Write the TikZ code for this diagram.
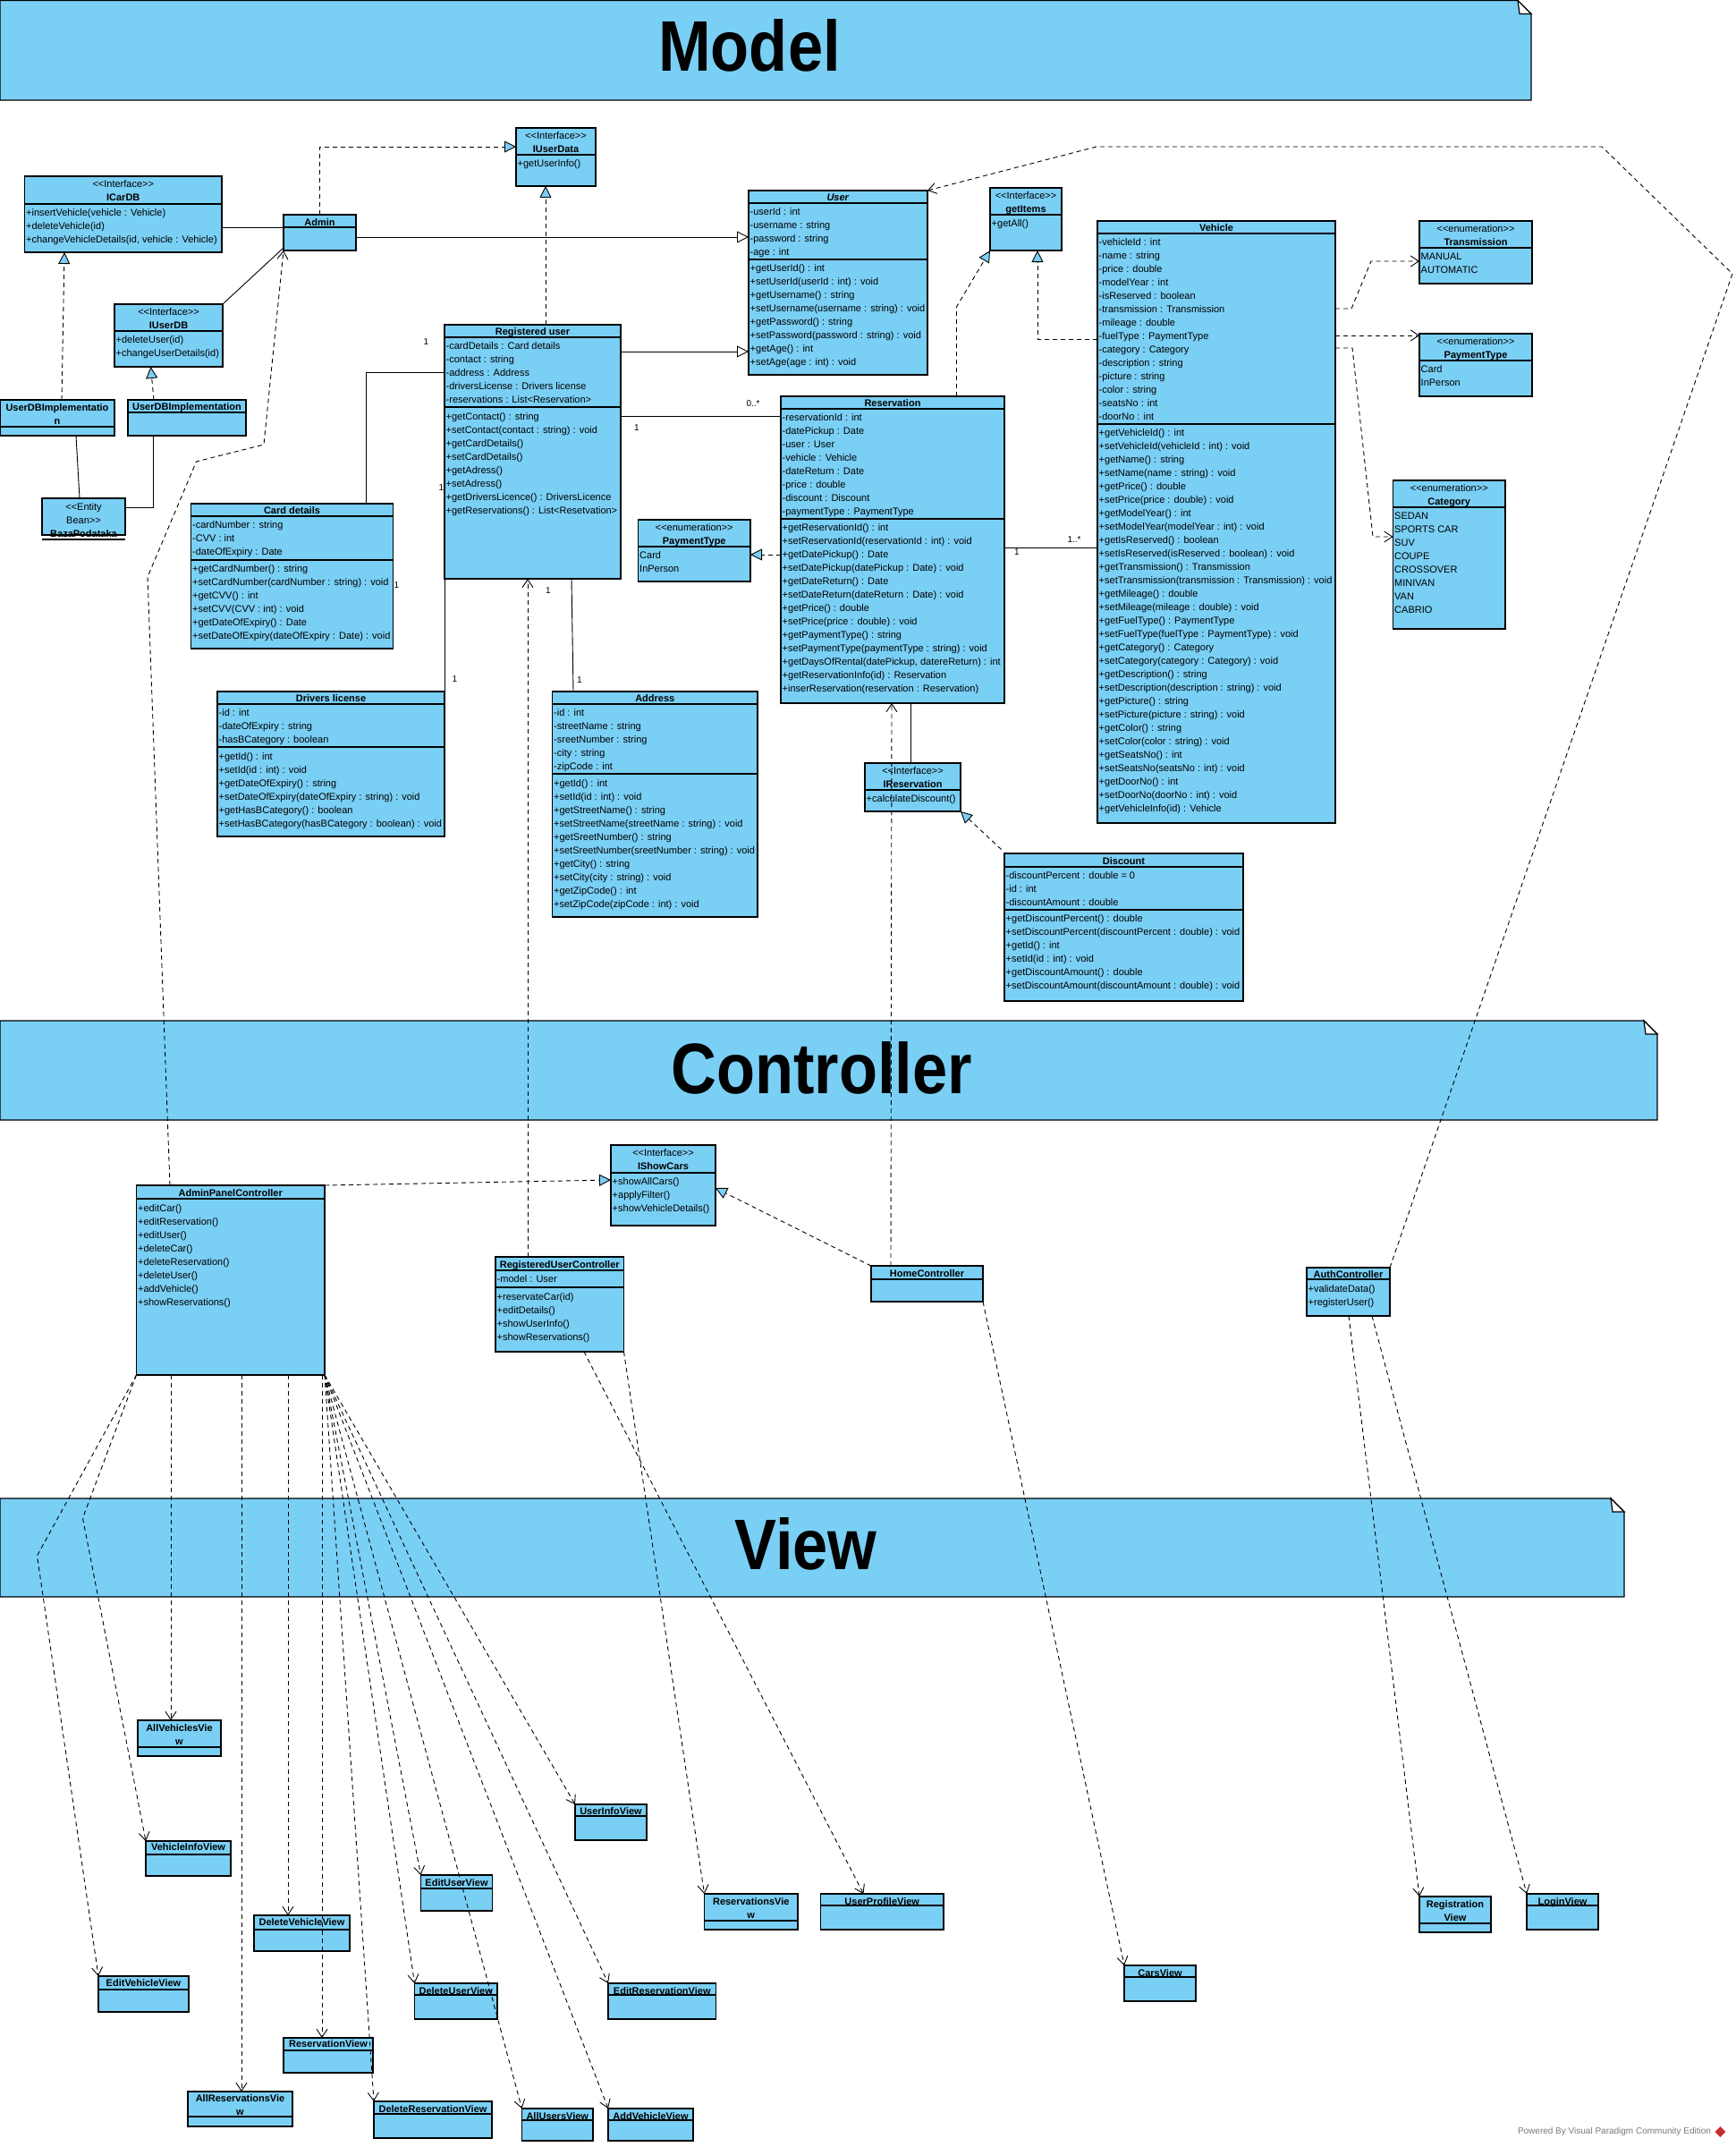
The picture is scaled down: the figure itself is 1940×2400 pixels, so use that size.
\documentclass[tikz,border=0pt]{standalone}
\usepackage{fontspec}
\setmainfont{Liberation Sans}
\usepackage{xcolor}
\usepackage{tikz}
\usetikzlibrary{arrows.meta}
\usetikzlibrary{calc}
\usetikzlibrary{positioning}
\usetikzlibrary{shapes.geometric}
\definecolor{umlblue}{RGB}{122,207,245}
\definecolor{creditgray}{RGB}{120,120,120}
\definecolor{vpred}{RGB}{200,45,50}
\newcommand{\umlsize}{\fontsize{11}{15}\selectfont}
\newcommand{\stereo}[1]{{\mdseries <\kern0pt<#1>\kern0pt>}}
\tikzset{
    umlbox/.style = {rectangle, draw=black, fill=umlblue, line width=1.2pt, anchor=north west, inner sep=0pt, outer sep=0pt},
    umltitle/.style = {anchor=north, align=center, inner sep=0pt, font=\umlsize\bfseries},
    umlrow/.style = {anchor=north west, align=left, inner sep=0pt, font=\umlsize},
    sepline/.style = {draw=black, line width=1.2pt},
    bannerbox/.style = {draw=black, fill=umlblue, line width=1.2pt},
    bannertitle/.style = {inner sep=0pt, font=\fontsize{80}{84}\selectfont\bfseries},
    mult/.style = {inner sep=0pt, font=\fontsize{10}{12}\selectfont},
}
\newcommand{\umlclass}[5]{\node[umlbox, minimum width=#4, minimum height=#5] (#1) at (#2,#3) {};}
\newcommand{\umlsep}[2]{\draw[sepline] ($(#1.north west)+(0,#2)$) -- ($(#1.north east)+(0,#2)$);}
\newcommand{\umlname}[3]{\node[umltitle] (#1-name) at ($(#1.north)+(0,#2)$) {\strut #3};}
\newcommand{\umlrows}[4]{\node[umlrow] (#1-#2) at ($(#1.north west)+(1.5,#3)$) {\strut #4};}

\begin{document}
\begin{tikzpicture}[x=1pt, y=-1pt]
\tikzset{
    assoc/.style = {draw=black, line width=0.9pt},
    generalize/.style = {draw=black, line width=0.9pt, -{Triangle[fill=white, length=13pt, width=13pt]}},
    realize/.style = {draw=black, line width=0.9pt, dash pattern=on 5pt off 4pt, -{Triangle[fill=umlblue, length=13pt, width=13pt]}},
    depend/.style = {draw=black, line width=0.9pt, dash pattern=on 5pt off 4pt, -{Straight Barb[length=9pt, width=12pt]}},
}
\useasboundingbox (0,0) rectangle (1940,2400);
%
% banners
\path[bannerbox] (0,0.6) -- (1697,0.6) -- (1712,15.6) -- (1712,112) -- (0,112) -- cycle;
\path[bannerbox, fill=white] (1697,0.6) -- (1712,15.6) -- (1699,15.6) -- cycle;
\node[bannertitle] (modeltitle) at (838,51) {\scalebox{0.88}[1]{Model}};
\path[bannerbox] (0,1141) -- (1838,1141) -- (1853,1156) -- (1853,1252) -- (0,1252) -- cycle;
\path[bannerbox, fill=white] (1838,1141) -- (1853,1156) -- (1840,1156) -- cycle;
\node[bannertitle] (controllertitle) at (918.5,1194) {\scalebox{0.88}[1]{Controller}};
\path[bannerbox] (0,1675) -- (1801,1675) -- (1816,1690) -- (1816,1785) -- (0,1785) -- cycle;
\path[bannerbox, fill=white] (1801,1675) -- (1816,1690) -- (1803,1690) -- cycle;
\node[bannertitle] (viewtitle) at (901,1726) {\scalebox{0.88}[1]{View}};
%
% model classes
\umlclass{icardb}{27.5}{197}{220.5}{85}
\umlsep{icardb}{31}
\umlname{icardb}{2}{\stereo{Interface}\\ICarDB}
\umlrows{icardb}{ops}{34}{+insertVehicle(vehicle : Vehicle)\\+deleteVehicle(id)\\+changeVehicleDetails(id, vehicle : Vehicle)}
%
\umlclass{iuserdata}{577}{143}{89}{65}
\umlsep{iuserdata}{30}
\umlname{iuserdata}{2}{\stereo{Interface}\\IUserData}
\umlrows{iuserdata}{ops}{33}{+getUserInfo()}
%
\umlclass{admin}{317}{240}{81}{40}
\umlsep{admin}{14}
\umlname{admin}{1.5}{Admin}
%
\umlclass{iuserdb}{128}{340}{121}{70}
\umlsep{iuserdb}{30}
\umlname{iuserdb}{2}{\stereo{Interface}\\IUserDB}
\umlrows{iuserdb}{ops}{33}{+deleteUser(id)\\+changeUserDetails(id)}
%
\umlclass{implleft}{0}{447}{128}{40}
\umlsep{implleft}{30}
\umlname{implleft}{2}{UserDBImplementatio\\n}
\umlclass{implright}{143}{447}{132}{40}
\umlsep{implright}{14}
\umlname{implright}{1}{UserDBImplementation}
%
\umlclass{baza}{47}{557}{93}{41}
\umlname{baza}{2.5}{{\mdseries <\kern0pt<Entity}\\{\mdseries Bean>\kern0pt>}\\BazaPodataka}
\draw[sepline] ($(baza.south west)+(0,5)$) -- ($(baza.south east)+(0,5)$);
%
\umlclass{user}{837}{213}{200}{206}
\umlsep{user}{14}
\umlsep{user}{77}
\umlname{user}{1}{\textit{User}}
\umlrows{user}{attr}{17}{-userId : int\\-username : string\\-password : string\\-age : int}
\umlrows{user}{ops}{80}{+getUserId() : int\\+setUserId(userId : int) : void\\+getUsername() : string\\+setUsername(username : string) : void\\+getPassword() : string\\+setPassword(password : string) : void\\+getAge() : int\\+setAge(age : int) : void}
%
\umlclass{getitems}{1107}{210}{80}{70}
\umlsep{getitems}{30}
\umlname{getitems}{2}{\stereo{Interface}\\getItems}
\umlrows{getitems}{ops}{33}{+getAll()}
%
\umlclass{reguser}{497}{363}{197}{284}
\umlsep{reguser}{14}
\umlsep{reguser}{92}
\umlname{reguser}{1}{Registered user}
\umlrows{reguser}{attr}{17}{-cardDetails : Card details\\-contact : string\\-address : Address\\-driversLicense : Drivers license\\-reservations : List<Reservation>}
\umlrows{reguser}{ops}{96}{+getContact() : string\\+setContact(contact : string) : void\\+getCardDetails()\\+setCardDetails()\\+getAdress()\\+setAdress()\\+getDriversLicence() : DriversLicence\\+getReservations() : List<Resetvation>}
%
\umlclass{reservation}{873}{443}{250}{343}
\umlsep{reservation}{14}
\umlsep{reservation}{137}
\umlname{reservation}{1}{Reservation}
\umlrows{reservation}{attr}{17}{-reservationId : int\\-datePickup : Date\\-user : User\\-vehicle : Vehicle\\-dateReturn : Date\\-price : double\\-discount : Discount\\-paymentType : PaymentType}
\umlrows{reservation}{ops}{140}{+getReservationId() : int\\+setReservationId(reservationId : int) : void\\+getDatePickup() : Date\\+setDatePickup(datePickup : Date) : void\\+getDateReturn() : Date\\+setDateReturn(dateReturn : Date) : void\\+getPrice() : double\\+setPrice(price : double) : void\\+getPaymentType() : string\\+setPaymentType(paymentType : string) : void\\+getDaysOfRental(datePickup, datereReturn) : int\\+getReservationInfo(id) : Reservation\\+inserReservation(reservation : Reservation)}
%
\umlclass{vehicle}{1227}{247}{266}{673}
\umlsep{vehicle}{14}
\umlsep{vehicle}{227}
\umlname{vehicle}{1}{Vehicle}
\umlrows{vehicle}{attr}{17}{-vehicleId : int\\-name : string\\-price : double\\-modelYear : int\\-isReserved : boolean\\-transmission : Transmission\\-mileage : double\\-fuelType : PaymentType\\-category : Category\\-description : string\\-picture : string\\-color : string\\-seatsNo : int\\-doorNo : int}
\umlrows{vehicle}{ops}{230}{+getVehicleId() : int\\+setVehicleId(vehicleId : int) : void\\+getName() : string\\+setName(name : string) : void\\+getPrice() : double\\+setPrice(price : double) : void\\+getModelYear() : int\\+setModelYear(modelYear : int) : void\\+getIsReserved() : boolean\\+setIsReserved(isReserved : boolean) : void\\+getTransmission() : Transmission\\+setTransmission(transmission : Transmission) : void\\+getMileage() : double\\+setMileage(mileage : double) : void\\+getFuelType() : PaymentType\\+setFuelType(fuelType : PaymentType) : void\\+getCategory() : Category\\+setCategory(category : Category) : void\\+getDescription() : string\\+setDescription(description : string) : void\\+getPicture() : string\\+setPicture(picture : string) : void\\+getColor() : string\\+setColor(color : string) : void\\+getSeatsNo() : int\\+setSeatsNo(seatsNo : int) : void\\+getDoorNo() : int\\+setDoorNo(doorNo : int) : void\\+getVehicleInfo(id) : Vehicle}
%
\umlclass{transmission}{1587}{247}{126}{70}
\umlsep{transmission}{30}
\umlname{transmission}{2}{\stereo{enumeration}\\Transmission}
\umlrows{transmission}{items}{33}{MANUAL\\AUTOMATIC}
\umlclass{paymentright}{1587}{373}{126}{70}
\umlsep{paymentright}{30}
\umlname{paymentright}{2}{\stereo{enumeration}\\PaymentType}
\umlrows{paymentright}{items}{33}{Card\\InPerson}
\umlclass{category}{1557.5}{537}{125.5}{166}
\umlsep{category}{30}
\umlname{category}{2}{\stereo{enumeration}\\Category}
\umlrows{category}{items}{33}{SEDAN\\SPORTS CAR\\SUV\\COUPE\\CROSSOVER\\MINIVAN\\VAN\\CABRIO}
\umlclass{paymentmid}{713.5}{581}{125.5}{69}
\umlsep{paymentmid}{30}
\umlname{paymentmid}{2}{\stereo{enumeration}\\PaymentType}
\umlrows{paymentmid}{items}{33}{Card\\InPerson}
%
\umlclass{carddetails}{213.5}{563}{226}{162}
\umlsep{carddetails}{14}
\umlsep{carddetails}{63}
\umlname{carddetails}{1}{Card details}
\umlrows{carddetails}{attr}{17}{-cardNumber : string\\-CVV : int\\-dateOfExpiry : Date}
\umlrows{carddetails}{ops}{66}{+getCardNumber() : string\\+setCardNumber(cardNumber : string) : void\\+getCVV() : int\\+setCVV(CVV : int) : void\\+getDateOfExpiry() : Date\\+setDateOfExpiry(dateOfExpiry : Date) : void}
%
\umlclass{drivers}{243}{773}{254}{162}
\umlsep{drivers}{14}
\umlsep{drivers}{62}
\umlname{drivers}{1}{Drivers license}
\umlrows{drivers}{attr}{17}{-id : int\\-dateOfExpiry : string\\-hasBCategory : boolean}
\umlrows{drivers}{ops}{65.5}{+getId() : int\\+setId(id : int) : void\\+getDateOfExpiry() : string\\+setDateOfExpiry(dateOfExpiry : string) : void\\+getHasBCategory() : boolean\\+setHasBCategory(hasBCategory : boolean) : void}
%
\umlclass{address}{617.5}{773}{229.5}{252}
\umlsep{address}{14}
\umlsep{address}{92}
\umlname{address}{1}{Address}
\umlrows{address}{attr}{17}{-id : int\\-streetName : string\\-sreetNumber : string\\-city : string\\-zipCode : int}
\umlrows{address}{ops}{95.5}{+getId() : int\\+setId(id : int) : void\\+getStreetName() : string\\+setStreetName(streetName : string) : void\\+getSreetNumber() : string\\+setSreetNumber(sreetNumber : string) : void\\+getCity() : string\\+setCity(city : string) : void\\+getZipCode() : int\\+setZipCode(zipCode : int) : void}
%
\umlclass{ireservation}{967}{853}{107}{54}
\umlsep{ireservation}{30}
\umlname{ireservation}{2}{\stereo{Interface}\\IReservation}
\umlrows{ireservation}{ops}{33}{+calculateDiscount()}
%
\umlclass{discount}{1123}{954}{267}{165}
\umlsep{discount}{15}
\umlsep{discount}{63}
\umlname{discount}{1.5}{Discount}
\umlrows{discount}{attr}{18}{-discountPercent : double = 0\\-id : int\\-discountAmount : double}
\umlrows{discount}{ops}{66}{+getDiscountPercent() : double\\+setDiscountPercent(discountPercent : double) : void\\+getId() : int\\+setId(id : int) : void\\+getDiscountAmount() : double\\+setDiscountAmount(discountAmount : double) : void}
%
% controller classes
\umlclass{adminctrl}{152.5}{1325}{210.5}{212}
\umlsep{adminctrl}{15}
\umlname{adminctrl}{1.5}{AdminPanelController}
\umlrows{adminctrl}{ops}{19}{+editCar()\\+editReservation()\\+editUser()\\+deleteCar()\\+deleteReservation()\\+deleteUser()\\+addVehicle()\\+showReservations()}
%
\umlclass{ishowcars}{683}{1280}{117}{90}
\umlsep{ishowcars}{31}
\umlname{ishowcars}{2}{\stereo{Interface}\\IShowCars}
\umlrows{ishowcars}{ops}{34}{+showAllCars()\\+applyFilter()\\+showVehicleDetails()}
%
\umlclass{regctrl}{554}{1405}{143.5}{106}
\umlsep{regctrl}{15}
\umlsep{regctrl}{34}
\umlname{regctrl}{1.5}{RegisteredUserController}
\umlrows{regctrl}{attr}{18}{-model : User}
\umlrows{regctrl}{ops}{38}{+reservateCar(id)\\+editDetails()\\+showUserInfo()\\+showReservations()}
%
\umlclass{homectrl}{974}{1415}{125}{40}
\umlsep{homectrl}{15}
\umlname{homectrl}{1.5}{HomeController}
%
\umlclass{authctrl}{1461}{1417}{93}{54}
\umlsep{authctrl}{13}
\umlname{authctrl}{0.5}{AuthController}
\umlrows{authctrl}{ops}{16.5}{+validateData()\\+registerUser()}
%
% view classes
\umlclass{allvehicles}{154}{1923}{93}{40}
\umlsep{allvehicles}{30}
\umlname{allvehicles}{1.5}{AllVehiclesVie\\w}
\umlclass{vehicleinfo}{163}{2058}{95}{39}
\umlsep{vehicleinfo}{15}
\umlname{vehicleinfo}{0}{VehicleInfoView}
\umlclass{deletevehicle}{284}{2141}{107}{40}
\umlsep{deletevehicle}{16}
\umlname{deletevehicle}{1}{DeleteVehicleView}
\umlclass{editvehicle}{110}{2209}{101}{40}
\umlsep{editvehicle}{15}
\umlname{editvehicle}{1}{EditVehicleView}
\umlclass{reservationview}{317}{2278}{100}{39}
\umlsep{reservationview}{14}
\umlname{reservationview}{0}{ReservationView}
\umlclass{allreservations}{210}{2338}{117}{39}
\umlsep{allreservations}{28}
\umlname{allreservations}{0.5}{AllReservationsVie\\w}
\umlclass{deletereservation}{418}{2349}{132}{41}
\umlsep{deletereservation}{14}
\umlname{deletereservation}{2}{DeleteReservationView}
\umlclass{edituser}{470.5}{2096}{80}{40}
\umlsep{edituser}{15}
\umlname{edituser}{2}{EditUserView}
\umlclass{deleteuser}{463.5}{2217}{92.5}{40}
\umlsep{deleteuser}{13}
\umlname{deleteuser}{1.5}{DeleteUserView}
\umlclass{userinfo}{643}{2017}{80}{40}
\umlsep{userinfo}{13}
\umlname{userinfo}{1}{UserInfoView}
\umlclass{editreservation}{680}{2217}{120.5}{40}
\umlsep{editreservation}{13}
\umlname{editreservation}{1.5}{EditReservationView}
\umlclass{allusers}{583.5}{2357}{79.5}{36}
\umlsep{allusers}{13}
\umlname{allusers}{2}{AllUsersView}
\umlclass{addvehicle}{680}{2357}{95}{36}
\umlsep{addvehicle}{13}
\umlname{addvehicle}{2}{AddVehicleView}
\umlclass{reservations}{787.5}{2117}{104.5}{40}
\umlsep{reservations}{30}
\umlname{reservations}{1.5}{ReservationsVie\\w}
\umlclass{userprofile}{917.5}{2117}{137.5}{40}
\umlsep{userprofile}{13}
\umlname{userprofile}{1.5}{UserProfileView}
\umlclass{carsview}{1257}{2197}{80}{40}
\umlsep{carsview}{13}
\umlname{carsview}{1.5}{CarsView}
\umlclass{registration}{1587}{2120}{80}{40}
\umlsep{registration}{30}
\umlname{registration}{2}{Registration\\View}
\umlclass{loginview}{1707}{2117}{80}{40}
\umlsep{loginview}{13}
\umlname{loginview}{2}{LoginView}
%
% associations
\draw[assoc] ($(icardb.north east)+(0,57)$) -- ($(admin.north west)+(0,14)$);
\draw[assoc] (iuserdb.north east) -- ($(admin.south west)+(0,-3)$);
\draw[assoc] ($(implleft.south west)+(85,0)$) -- ($(baza.north west)+(42,0)$);
\draw[assoc] ($(implright.south west)+(28,0)$) |- ($(baza.north east)+(0,10)$);
\draw[assoc] ($(reguser.north west)+(0,53)$) -| ($(carddetails.north west)+(196,0)$);
\draw[assoc] ($(reguser.north east)+(0,102)$) -- ($(reservation.north west)+(0,22)$);
\draw[assoc] (reguser.south west) -- (drivers.north east);
\draw[assoc] ($(reguser.south west)+(142,0)$) -- ($(address.north west)+(23.5,0)$);
\draw[assoc] ($(reservation.north east)+(0,169)$) -- ($(vehicle.north west)+(0,365)$);
\draw[assoc] ($(ireservation.north west)+(51,0)$) -- ($(reservation.south west)+(145,0)$);
%
% generalizations
\draw[generalize] ($(admin.north east)+(0,25)$) -- ($(user.north west)+(0,52)$);
\draw[generalize] ($(reguser.north east)+(0,30)$) -- ($(user.north west)+(0,180)$);
%
% realizations
\draw[realize] (admin.north) |- ($(iuserdata.north west)+(0,21)$);
\draw[realize] ($(implleft.north west)+(69,0)$) -- ($(icardb.south west)+(44.5,0)$);
\draw[realize] ($(implright.north west)+(29,0)$) -- ($(iuserdb.south west)+(40.5,0)$);
\draw[realize] ($(reguser.north west)+(113,0)$) -- ($(iuserdata.south west)+(33,0)$);
\draw[realize] ($(reservation.north west)+(196.5,0)$) -- ++(0,-100) -- (getitems.south west);
\draw[realize] ($(vehicle.north west)+(0,132)$) -| ($(getitems.south west)+(53,0)$);
\draw[realize] ($(reservation.north west)+(0,177)$) -- ($(paymentmid.north east)+(0,39)$);
\draw[realize] ($(discount.north west)+(-3.5,-4.5)$) -- (ireservation.south east);
\draw[realize] (adminctrl.north east) -- ($(ishowcars.north west)+(0,39)$);
\draw[realize] (homectrl.north west) -- ($(ishowcars.north east)+(0,48)$);
%
% dependencies in the model
\draw[depend] ($(vehicle.north east)+(0,98)$) -- ++(18,0) -- ++(22,-53) -- ($(transmission.north west)+(0,45)$);
\draw[depend] ($(vehicle.north east)+(0,128)$) -- ($(paymentright.north west)+(0,2)$);
\draw[depend] ($(vehicle.north east)+(0,142)$) -- ++(19,0) -- ++(23,211) -- ($(category.north west)+(0,63)$);
%
% controllers to model
\draw[depend] ($(adminctrl.north west)+(37.5,0)$) -- ++(-25,-680) -- ++(54.5,-129) -- ++(75.5,-19) -- (admin.south west);
\draw[depend] ($(regctrl.north west)+(36,0)$) -- ($(reguser.south west)+(93,0)$);
\draw[depend] ($(homectrl.north west)+(22,0)$) -- ($(reservation.south west)+(124,0)$);
\draw[depend] (authctrl.north east) -- ++(383,-1111) -- ++(-146,-142) -- ++(-565,0) -- (user.north east);
%
% controllers to views
\draw[depend] (adminctrl.south west) -- ++(-111,202) -- (editvehicle.north west);
\draw[depend] (adminctrl.south west) -- ++(-60,160) -- (vehicleinfo.north west);
\draw[depend] ($(adminctrl.south west)+(38.5,0)$) -- ($(allvehicles.north west)+(37,0)$);
\draw[depend] ($(adminctrl.south west)+(117.5,0)$) -- ($(allreservations.north west)+(60,0)$);
\draw[depend] ($(adminctrl.south west)+(169.5,0)$) -- ($(deletevehicle.north west)+(38,0)$);
\draw[depend] ($(adminctrl.south west)+(207.5,0)$) -- ($(reservationview.north west)+(43,0)$);
\foreach \viewname in {deletereservation, deleteuser, edituser, allusers, addvehicle, editreservation, userinfo}
    \draw[depend] (adminctrl.south east) -- (\viewname.north west);
\draw[depend] (regctrl.south east) -- (reservations.north west);
\draw[depend] ($(regctrl.south west)+(99,0)$) -- ($(userprofile.north west)+(48,0)$);
\draw[depend] (homectrl.south east) -- (carsview.north west);
\draw[depend] ($(authctrl.south west)+(47,0)$) -- (registration.north west);
\draw[depend] ($(authctrl.south west)+(73,0)$) -- (loginview.north west);
%
% multiplicities
\node[mult] (mcardtop) at (476.5,382) {1};
\node[mult] (mcardleft) at (493.5,545) {1};
\node[mult] (mcardright) at (443.5,654) {1};
\node[mult] (mresone) at (712,478) {1};
\node[mult] (mresmany) at (842,451) {0..*};
\node[mult] (mdrivers) at (508.5,759) {1};
\node[mult] (maddrtop) at (613,660) {1};
\node[mult] (maddrbot) at (648,760) {1};
\node[mult] (mvehone) at (1137,617) {1};
\node[mult] (mvehmany) at (1201,603) {1..*};
%
\node[font=\fontsize{10}{12}\selectfont, text=creditgray, inner sep=0pt] (poweredby) at (1805,2383) {Powered By Visual Paradigm Community Edition};
\node[diamond, fill=vpred, minimum size=12pt, inner sep=0pt, right=4pt of poweredby] (vplogo) {};
\end{tikzpicture}
\end{document}
